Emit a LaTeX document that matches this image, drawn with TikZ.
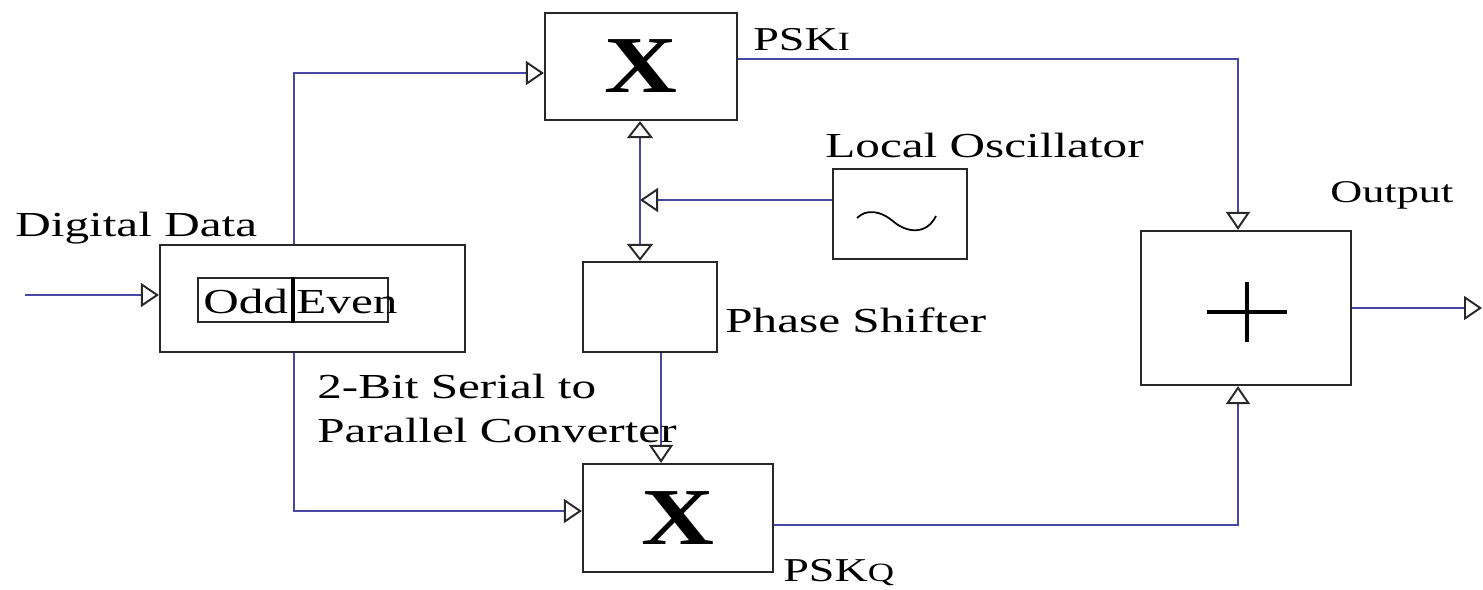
\documentclass[tikz,border=0pt]{standalone}
\usepackage{fontspec}
\setmainfont{Liberation Serif}
\usetikzlibrary{arrows.meta}
\definecolor{wire}{RGB}{70,70,165}
\definecolor{edge}{RGB}{40,40,40}
\newcommand{\wide}[2][1.4]{\scalebox{#1}[1]{#2}}
\begin{document}
\begin{tikzpicture}[x=0.02cm,y=-0.02cm,
  blk/.style={draw=edge, line width=1.3pt, inner sep=0, rectangle},
  wireline/.style={draw=wire, line width=1.1pt},
  otip/.style={-{Triangle[open,length=0.36cm,width=0.48cm,line width=1.1pt,color=edge]}},
  btip/.style={{Triangle[open,length=0.34cm,width=0.52cm,line width=1.1pt,color=edge]}-{Triangle[open,length=0.34cm,width=0.52cm,line width=1.1pt,color=edge]}},
  lbl/.style={font=\fontsize{20}{24}\selectfont, inner sep=0, anchor=base west, text=black},
  bigx/.style={font=\fontsize{46}{50}\selectfont\bfseries, text=black},
]
\useasboundingbox (0,0) rectangle (1483,589);

% blocks
\node[blk, minimum width=3.84cm, minimum height=2.14cm, bigx] (mt) at (641,66.5) {\wide[1.25]{X}};
\node[blk, minimum width=3.8cm, minimum height=2.16cm, bigx] (mb) at (678,518) {\wide[1.25]{X}};
\node[blk, minimum width=6.1cm, minimum height=2.14cm] (ser) at (312.5,298.5) {};
\node[blk, minimum width=2.68cm, minimum height=1.8cm] (ps) at (650,307) {};
\node[blk, minimum width=2.68cm, minimum height=1.8cm] (osc) at (900,214) {};
\node[blk, minimum width=4.2cm, minimum height=3.08cm] (plus) at (1246,308) {};

% inner odd/even box
\node[draw=edge, line width=0.9pt, minimum width=3.8cm, minimum height=0.88cm, inner sep=0] (oe) at (293,300) {};
\draw[black, line width=2pt] (oe.north) -- (oe.south);
\node[lbl] (odd) at (203,313) {\wide{Odd}};
\node[lbl] (even) at (296,313) {\wide{Even}};

% plus sign
\draw[black, line width=1.8pt] (1207,312) -- (1287,312);
\draw[black, line width=1.8pt] (1247,282) -- (1247,342);

% sine
\draw[black, line width=1pt] (857,218) .. controls (866,209) and (880,210) .. (894,222) .. controls (906,232) and (926,236) .. (936,216);

% coordinates
\coordinate (in) at (25,295);
\coordinate (out) at (1482,308);
\coordinate (jn) at (640,200);

% connectors
\draw[wireline, otip] (in) -- (in -| ser.west);
\draw[wireline, otip] ([xshift=2.7cm]ser.north west) |- ([yshift=-0.13cm]mt.west);
\draw[wireline, otip] ([xshift=2.7cm]ser.south west) |- ([yshift=0.14cm]mb.west);
\draw[wireline, otip] ([yshift=0.15cm]mt.east) -| ([xshift=-0.16cm]plus.north);
\draw[wireline, otip] ([yshift=-0.14cm]mb.east) -| ([xshift=-0.16cm]plus.south);
\draw[wireline, otip] (plus.east |- out) -- (out);
\draw[wireline, otip] ([yshift=0.28cm]osc.west) -- (jn);
\draw[wireline, btip] (mt.south -| jn) -- (ps.north -| jn);
\draw[wireline, otip] ([xshift=0.22cm]ps.south) -- ([xshift=0.22cm]ps.south |- mb.north);

% labels
\node[lbl] (dd) at (15,236) {\wide{Digital Data}};
\node[lbl] (conv1) at (317,398) {\wide{2-Bit Serial to}};
\node[lbl] (conv2) at (317,442) {\wide{Parallel Converter}};
\node[lbl] (psl) at (725,332) {\wide{Phase Shifter}};
\node[lbl] (lol) at (825,157) {\wide{Local Oscillator}};
\node[lbl, font=\fontsize{18}{22}\selectfont] (outl) at (1330,202) {\wide{Output}};
\node[lbl, font=\fontsize{19}{22}\selectfont] (pski) at (753,50) {\wide[1.38]{PSK{\fontsize{15}{16}\selectfont I}}};
\node[lbl, font=\fontsize{19}{22}\selectfont] (pskq) at (783,581) {\wide[1.38]{PSK{\fontsize{15}{16}\selectfont Q}}};
\end{tikzpicture}
\end{document}
